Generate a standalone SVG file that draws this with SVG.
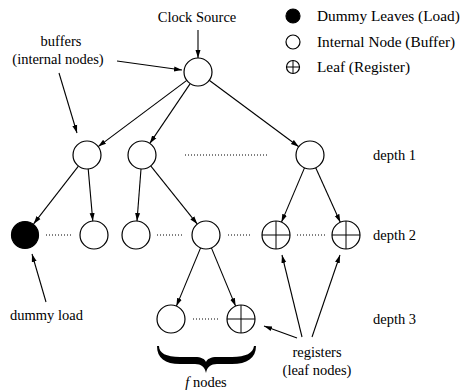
<svg xmlns="http://www.w3.org/2000/svg" width="461" height="390" viewBox="0 0 461 390">
<style>
text{font-family:"Liberation Serif","Times New Roman",serif;font-size:14.5px;fill:#000}
.lg{font-size:15.3px}
.n{fill:#fff;stroke:#000;stroke-width:1.2}
.d{fill:#000;stroke:#000;stroke-width:1.2}
.x{stroke:#000;stroke-width:1}
.e{stroke:#000;stroke-width:1.1;fill:none;marker-end:url(#ah)}
.dot{stroke:#000;stroke-width:1;stroke-dasharray:1 2;fill:none}
</style>
<defs>
<marker id="ah" markerUnits="userSpaceOnUse" markerWidth="10" markerHeight="8" refX="8" refY="3" orient="auto">
<path d="M0,0.5 L8,3 L0,5.5 Z" fill="#000"/>
</marker>
</defs>
<rect width="461" height="390" fill="#fff"/>

<g id="legend" font-family="Liberation Serif, Times New Roman, serif">
<circle class="d" cx="293" cy="16" r="7"/>
<text class="lg" x="317" y="20.5">Dummy Leaves (Load)</text>
<circle class="n" cx="293" cy="42" r="7"/>
<text class="lg" x="317" y="46.5">Internal Node (Buffer)</text>
<circle class="n" cx="293" cy="67" r="6.5"/>
<line class="x" x1="286.5" y1="67" x2="299.5" y2="67"/>
<line class="x" x1="293" y1="60.5" x2="293" y2="73.5"/>
<text class="lg" x="317" y="71.5">Leaf (Register)</text>
</g>

<g id="labels" font-family="Liberation Serif, Times New Roman, serif">
<text x="197" y="22" text-anchor="middle">Clock Source</text>
<text x="61" y="46" text-anchor="middle">buffers</text>
<text x="58" y="64" text-anchor="middle">(internal nodes)</text>
<text x="373" y="160">depth 1</text>
<text x="373" y="240">depth 2</text>
<text x="373" y="324">depth 3</text>
<text x="10" y="320">dummy load</text>
<text x="317" y="357" text-anchor="middle">registers</text>
<text x="317" y="375" text-anchor="middle">(leaf nodes)</text>
<text x="206" y="387" text-anchor="middle"><tspan font-style="italic">f</tspan> nodes</text>
</g>

<g id="connectors">
<line class="e" x1="198" y1="30" x2="198" y2="58"/>
<line class="e" x1="186.8" y1="80.4" x2="98.2" y2="146.6"/>
<line class="e" x1="190.2" y1="83.6" x2="149.8" y2="143.4"/>
<line class="e" x1="209.2" y1="80.3" x2="298.8" y2="146.7"/>
<line class="e" x1="78.4" y1="166.1" x2="33.6" y2="223.9"/>
<line class="e" x1="88.2" y1="168.9" x2="92.8" y2="221.1"/>
<line class="e" x1="141" y1="169" x2="137" y2="221"/>
<line class="e" x1="150.7" y1="165.9" x2="197.3" y2="224.1"/>
<line class="e" x1="304.5" y1="167.9" x2="281.5" y2="222.1"/>
<line class="e" x1="315.7" y1="167.8" x2="340.3" y2="222.2"/>
<line class="e" x1="200.6" y1="247.9" x2="176.4" y2="306.1"/>
<line class="e" x1="211.4" y1="247.9" x2="235.6" y2="306.1"/>
<line class="e" x1="117" y1="61" x2="182" y2="70"/>
<line class="e" x1="59" y1="73" x2="77" y2="133"/>
<line class="e" x1="46" y1="302" x2="32" y2="254"/>
<line class="e" x1="297" y1="338" x2="264" y2="326"/>
<line class="e" x1="302" y1="337" x2="282" y2="255"/>
<line class="e" x1="312" y1="337" x2="340" y2="255"/>
<line class="dot" x1="185" y1="155" x2="268" y2="155"/>
<line class="dot" x1="46" y1="235" x2="73" y2="235"/>
<line class="dot" x1="157" y1="235" x2="183" y2="235"/>
<line class="dot" x1="228" y1="235" x2="252" y2="235"/>
<line class="dot" x1="297" y1="235" x2="325" y2="235"/>
<line class="dot" x1="193" y1="319" x2="218" y2="319"/>
</g>

<g id="root"><circle class="n" cx="198" cy="72" r="14"/></g>
<g id="d1a"><circle class="n" cx="87" cy="155" r="14"/></g>
<g id="d1b"><circle class="n" cx="142" cy="155" r="14"/></g>
<g id="d1c"><circle class="n" cx="310" cy="155" r="14"/></g>
<g id="d2a"><circle class="d" cx="25" cy="235" r="13.5"/></g>
<g id="d2b"><circle class="n" cx="94" cy="235" r="14"/></g>
<g id="d2c"><circle class="n" cx="136" cy="235" r="14"/></g>
<g id="d2d"><circle class="n" cx="206" cy="235" r="14"/></g>
<g id="d2e"><circle class="n" cx="276" cy="235" r="14"/><line class="x" x1="262" y1="235" x2="290" y2="235"/><line class="x" x1="276" y1="221" x2="276" y2="249"/></g>
<g id="d2f"><circle class="n" cx="346" cy="235" r="14"/><line class="x" x1="332" y1="235" x2="360" y2="235"/><line class="x" x1="346" y1="221" x2="346" y2="249"/></g>
<g id="d3a"><circle class="n" cx="171" cy="319" r="14"/></g>
<g id="d3b"><circle class="n" cx="241" cy="319" r="14"/><line class="x" x1="227" y1="319" x2="255" y2="319"/><line class="x" x1="241" y1="305" x2="241" y2="333"/></g>

<g id="brace">
<path d="M157,346 C157,358 165,364 180,364 L195,364 C201,364 205,367 206,373 C207,367 211,364 217,364 L232,364 C247,364 256,358 256,346 L254,346 C253,353 246,357 232,357 L217,357 C211,357 207,359 206,362 C205,359 201,357 195,357 L180,357 C166,357 159,353 159,346 Z" fill="#000"/>
</g>
</svg>
